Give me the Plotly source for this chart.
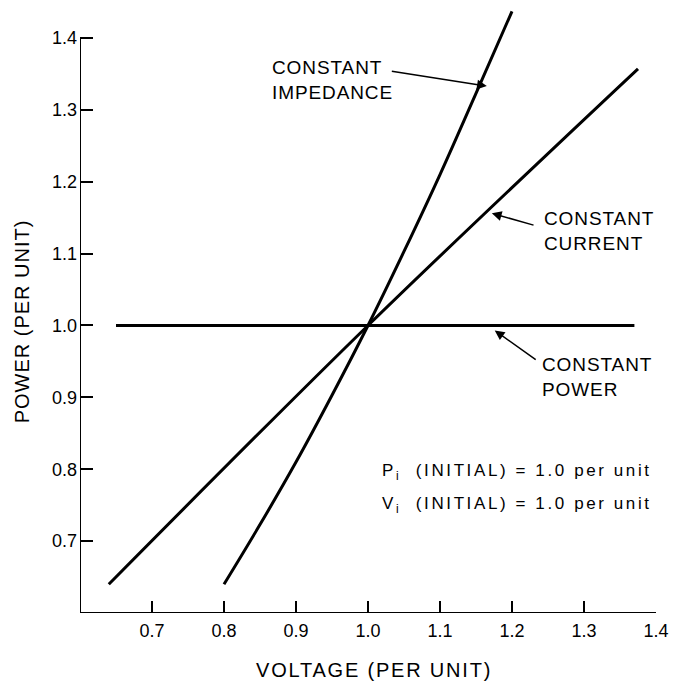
import plotly.graph_objects as go

# Per-unit load characteristics
v_power = [0.65, 1.0, 1.37]
p_power = [1.0, 1.0, 1.0]

v_current = [0.64, 1.0, 1.375]
p_current = [0.64, 1.0, 1.357]

v_impedance = [0.80, 0.85, 0.90, 0.95, 1.00, 1.05, 1.10, 1.15, 1.20]
p_impedance = [0.640, 0.723, 0.810, 0.903, 1.000, 1.103, 1.210, 1.323, 1.437]

x_ticks = [0.7, 0.8, 0.9, 1.0, 1.1, 1.2, 1.3, 1.4]
x_labels = ["0.7", "0.8", "0.9", "1.0", "1.1", "1.2", "1.3", "1.4"]
y_ticks = [0.7, 0.8, 0.9, 1.0, 1.1, 1.2, 1.3, 1.4]
y_labels = ["0.7", "0.8", "0.9", "1.0", "1.1", "1.2", "1.3", "1.4"]

FONT = "Liberation Sans"

def spaced(txt, px):
    #Wide letter spacing like the original lettering
    return '<span style="letter-spacing:%spx">%s</span>' % (px, txt)

fig = go.Figure()

for xs, ys, name in [(v_power, p_power, "Constant power"),
                     (v_current, p_current, "Constant current"),
                     (v_impedance, p_impedance, "Constant impedance")]:
    fig.add_scatter(x=xs, y=ys, mode="lines",
                    line=dict(color="black", width=3, shape="spline"),
                    name=name, showlegend=False, hoverinfo="skip")

#Axis lines drawn as shapes so the y axis stops at 1.4
fig.add_shape(type="line", x0=0.6, x1=0.6, y0=0.6, y1=1.4,
              line=dict(color="black", width=2))
fig.add_shape(type="line", x0=0.6, x1=1.4, y0=0.6, y1=0.6,
              line=dict(color="black", width=2))

#Arrow annotations: (head x, head y, tail x, tail y)
arrows = [
    (1.165, 1.333, 1.031, 1.354),
    (1.172, 1.156, 1.232, 1.139),
    (1.176, 0.993, 1.235, 0.951),
]
for hx, hy, tx, ty in arrows:
    fig.add_annotation(x=hx, y=hy, ax=tx, ay=ty, xref="x", yref="y",
                       axref="x", ayref="y", text="", showarrow=True,
                       arrowhead=2, arrowsize=1.3, arrowwidth=1.5,
                       arrowcolor="black", standoff=0, startstandoff=0)

label_font = dict(family=FONT, size=19, color="black")
labels = [
    (0.864, 1.341, "CONSTANT", "IMPEDANCE"),
    (1.242, 1.131, "CONSTANT", "CURRENT"),
    (1.239, 0.928, "CONSTANT", "POWER"),
]
for x, y, l1, l2 in labels:
    fig.add_annotation(x=x, y=y, xref="x", yref="y",
                       text=spaced(l1, 0.9) + "<br>" + spaced(l2, 0.9),
                       showarrow=False, xanchor="left", yanchor="middle",
                       align="left", font=label_font)

note_font = dict(family=FONT, size=17, color="black")
fig.add_annotation(x=1.017, y=0.796, xref="x", yref="y", showarrow=False,
                   xanchor="left", yanchor="middle", font=note_font,
                   text=spaced("P<sub>i</sub>  (INITIAL) = 1.0 per unit", 2.6))
fig.add_annotation(x=1.017, y=0.750, xref="x", yref="y", showarrow=False,
                   xanchor="left", yanchor="middle", font=note_font,
                   text=spaced("V<sub>i</sub>  (INITIAL) = 1.0 per unit", 2.6))

title_font = dict(family=FONT, size=20, color="black")
fig.add_annotation(x=0.51, y=-0.093, xref="paper", yref="paper",
                   text=spaced("VOLTAGE (PER UNIT)", 1.8), showarrow=False,
                   xanchor="center", yanchor="middle", font=title_font)
fig.add_annotation(x=-0.10, y=0.478, xref="paper", yref="paper",
                   text=spaced("POWER (PER UNIT)", 1.0), showarrow=False,
                   textangle=-90, xanchor="center", yanchor="middle",
                   font=title_font)

tick_font = dict(family=FONT, size=18, color="black")
fig.update_layout(
    width=675, height=681,
    margin=dict(l=80, r=19, t=2, b=68),
    paper_bgcolor="white", plot_bgcolor="white",
    xaxis=dict(range=[0.6, 1.4], tickvals=x_ticks, ticktext=x_labels,
               ticks="inside", ticklen=12, tickwidth=2, tickcolor="black",
               ticklabelstandoff=5,
               showline=False, showgrid=False, zeroline=False,
               tickfont=tick_font),
    yaxis=dict(range=[0.6, 1.45], tickvals=y_ticks, ticktext=y_labels,
               ticks="inside", ticklen=13, tickwidth=2, tickcolor="black",
               ticklabelstandoff=2,
               showline=False, showgrid=False, zeroline=False,
               tickfont=tick_font),
)

#Drop the default page margin so the figure sits at the window corner
fig.write_html("out.html", config={"displayModeBar": False},
               post_script="document.body.style.margin='0';")
